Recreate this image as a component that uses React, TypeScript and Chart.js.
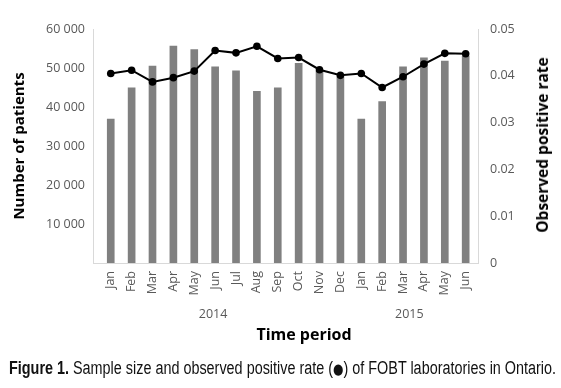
import React, { useEffect, useRef } from "react";
import { Chart, registerables } from "chart.js";

Chart.register(...registerables);

const monthLabels = ["Jan", "Feb", "Mar", "Apr", "May", "Jun", "Jul", "Aug", "Sep", "Oct", "Nov", "Dec", "Jan", "Feb", "Mar", "Apr", "May", "Jun"];
const patients = [36900, 44900, 50500, 55600, 54700, 50300, 49300, 44000, 44900, 51200, 49300, 47800, 36900, 41400, 50300, 52600, 51800, 53000];
const positiveRate = [0.0405, 0.0412, 0.0387, 0.0396, 0.041, 0.0454, 0.0449, 0.0463, 0.0437, 0.0439, 0.0413, 0.0401, 0.0405, 0.0375, 0.0398, 0.0425, 0.0448, 0.0447];
const yearLabels = ["2014", "2015"];
const yearLabelAt = [4.9, 14.3];
const leftTicks = [0, 10000, 20000, 30000, 40000, 50000, 60000];
const rightTicks = [0, 0.01, 0.02, 0.03, 0.04, 0.05];

const tickFont = { family: "'Open Sans', sans-serif", size: 12.5 };
const tickColor = "#595959";
const axisLine = "#d9d9d9";

export default function App() {
  const ref = useRef<HTMLCanvasElement>(null);
  const capRef = useRef<HTMLSpanElement>(null);

  useEffect(() => {
    const canvas = ref.current!;
    const chart = new Chart(canvas, {
      type: "bar",
      data: {
        datasets: [
          {
            type: "line",
            label: "Observed positive rate",
            data: positiveRate.map((v, i) => ({ x: i, y: v })),
            yAxisID: "y1",
            xAxisID: "x",
            borderColor: "#000",
            backgroundColor: "#000",
            borderWidth: 2,
            pointRadius: 3.8,
            pointBackgroundColor: "#000",
            pointBorderWidth: 0,
            tension: 0,
            order: 0,
          } as any,
          {
            type: "bar",
            label: "Number of patients",
            data: patients.map((v, i) => ({ x: i, y: v })),
            yAxisID: "y",
            xAxisID: "x",
            backgroundColor: "#808080",
            barThickness: 7,
            order: 1,
          } as any,
        ],
      },
      options: {
        responsive: false,
        animation: false,
        devicePixelRatio: 1,
        layout: { padding: { top: 29, bottom: 61, left: 0, right: 0 } },
        plugins: { legend: { display: false }, tooltip: { enabled: false } },
        scales: {
          x: {
            type: "linear",
            position: "bottom",
            offset: false,
            min: -0.85,
            max: 17.59,
            grid: { display: false, drawTicks: false, offset: false },
            border: { display: true, color: axisLine, width: 1 },
            afterBuildTicks: (s: any) => {
              s.ticks = monthLabels.map((_, i) => ({ value: i }));
            },
            afterFit: (s: any) => {
              s.height = 42;
            },
            ticks: {
              autoSkip: false,
              minRotation: 90,
              maxRotation: 90,
              padding: 8,
              color: tickColor,
              font: tickFont,
              callback: (v: any) => monthLabels[v as number] ?? "",
            },
          },
          x2: {
            type: "linear",
            position: "bottom",
            offset: false,
            min: -0.85,
            max: 17.59,
            grid: { display: false, drawTicks: false, offset: false },
            border: { display: false },
            afterBuildTicks: (s: any) => {
              s.ticks = yearLabelAt.map((v) => ({ value: v }));
            },
            afterFit: (s: any) => {
              s.height = 22;
            },
            ticks: {
              autoSkip: false,
              maxRotation: 0,
              minRotation: 0,
              padding: 2,
              color: tickColor,
              font: tickFont,
              callback: (_v: any, i: number) => yearLabels[i],
            },
          },
          y: {
            type: "linear",
            position: "left",
            min: 0,
            max: 60000,
            grid: { display: false, drawTicks: false },
            border: { display: true, color: axisLine, width: 1 },
            afterBuildTicks: (s: any) => {
              s.ticks = leftTicks.map((v) => ({ value: v }));
            },
            afterFit: (s: any) => {
              s.width = 93;
            },
            ticks: {
              padding: 8,
              color: tickColor,
              font: tickFont,
              callback: (v: any) =>
                v === 0 ? "" : String(v).replace(/\B(?=(\d{3})+(?!\d))/g, " "),
            },
            title: {
              display: true,
              text: "Number of patients",
              color: "#000",
              font: { family: "'Open Sans', sans-serif", size: 15, weight: "bold" },
              padding: { top: 11, bottom: 0 },
            },
          },
          y1: {
            type: "linear",
            position: "right",
            min: 0,
            max: 0.05,
            grid: { display: false, drawTicks: false },
            border: { display: true, color: axisLine, width: 1 },
            afterBuildTicks: (s: any) => {
              s.ticks = rightTicks.map((v) => ({ value: v }));
            },
            afterFit: (s: any) => {
              s.width = 83;
            },
            ticks: {
              padding: 12,
              color: tickColor,
              font: tickFont,
              callback: (v: any) => (v === 0 ? "0" : Number(v).toFixed(2)),
            },
          },
        },
      } as any,
    });

    const cap = capRef.current;
    if (cap) {
      const w = cap.offsetWidth;
      if (w > 0) cap.style.transform = `scaleX(${547 / w})`;
    }
    return () => chart.destroy();
  }, []);

  return (
    <div style={{ position: "absolute", left: 0, top: 0, width: 561, height: 388, background: "#fff", overflow: "hidden" }}>
      <canvas ref={ref} width={561} height={388} style={{ position: "absolute", left: 0, top: 0, width: 561, height: 388 }} />
      <div
        style={{
          position: "absolute",
          left: 542,
          top: 145,
          transform: "translate(-50%, -50%) rotate(-90deg)",
          fontFamily: "'Open Sans', sans-serif",
          fontWeight: "bold",
          fontSize: 15.5,
          color: "#000",
          lineHeight: "20px",
          whiteSpace: "nowrap",
        }}
      >
        Observed positive rate
      </div>
      <div
        style={{
          position: "absolute",
          left: 0,
          width: 608,
          top: 324,
          textAlign: "center",
          fontFamily: "'Open Sans', sans-serif",
          fontWeight: "bold",
          fontSize: 16,
          color: "#000",
          lineHeight: "20px",
        }}
      >
        Time period
      </div>
      <span
        ref={capRef}
        style={{
          position: "absolute",
          left: 9,
          top: 357,
          transformOrigin: "0 0",
          fontFamily: "'Liberation Sans', Arial, sans-serif",
          fontSize: 18,
          color: "#111",
          lineHeight: "22px",
          whiteSpace: "nowrap",
        }}
      >
        <b>Figure 1.</b> Sample size and observed positive rate (
        <span style={{ fontFamily: "'DejaVu Sans', sans-serif", fontSize: 15, lineHeight: "15px" }}>●</span>
        ) of FOBT laboratories in Ontario.
      </span>
    </div>
  );
}
